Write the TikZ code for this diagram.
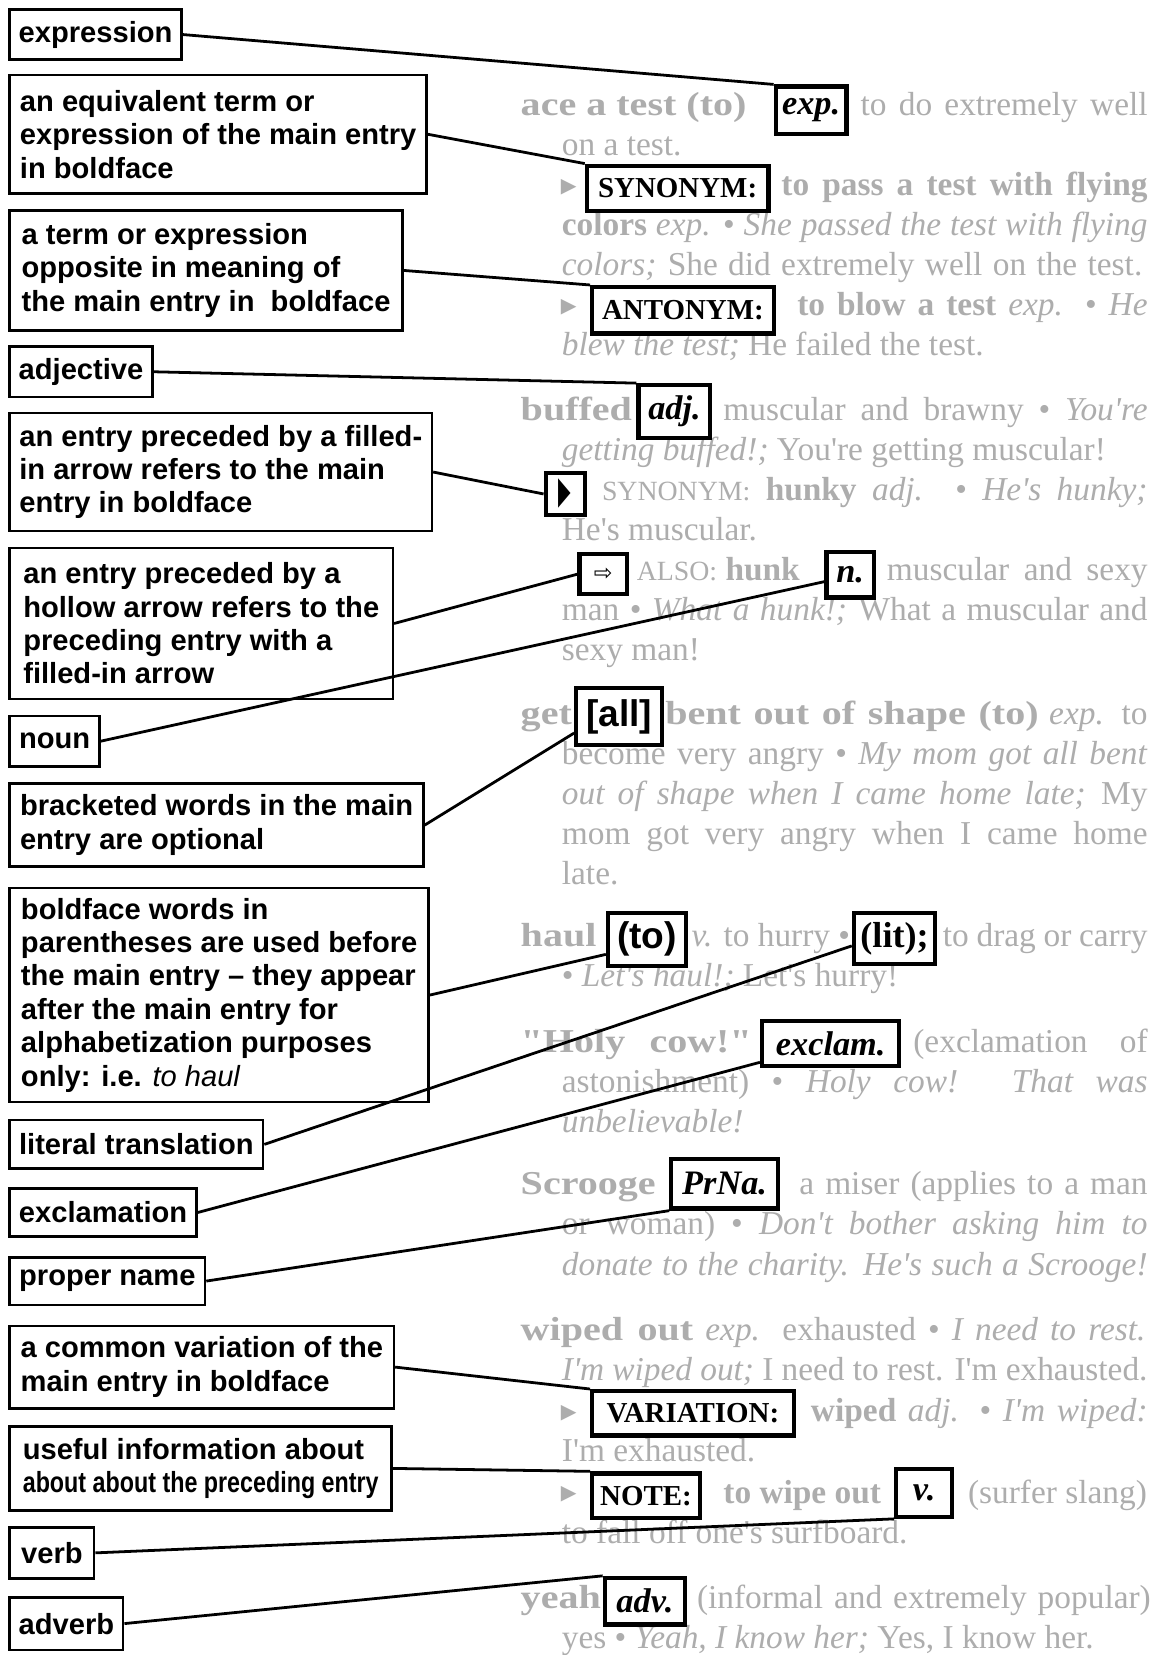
\documentclass[tikz,border=0pt]{standalone}
\usepackage{fontspec}
\usepackage{graphicx}
\newfontfamily\labelfont{Liberation Sans}
\newfontfamily\dictfont{Liberation Serif}
\newfontfamily\headfont{Liberation Serif}[FakeStretch=1.2]
\newfontfamily\symfont{DejaVu Sans}

\tikzset{
  notebox/.style={draw, line width=1.4pt, fill=white, anchor=north west,
    inner xsep=0.17cm, inner ysep=0pt, align=left,
    font={\labelfont\bfseries\fontsize{15.7}{18}\selectfont}},
  abbrbox/.style={draw, line width=2.3pt, fill=white, inner sep=0pt},
  abbrit/.style={abbrbox, font={\dictfont\bfseries\itshape\fontsize{18.5}{20}\selectfont}},
  abbrcap/.style={abbrbox, font={\dictfont\bfseries\fontsize{15.6}{18}\selectfont}},
  abbrsans/.style={abbrbox, font={\labelfont\bfseries\fontsize{20}{22}\selectfont}},
  greytext/.style={inner sep=0pt, anchor=base west, text=black!32,
    font={\dictfont\fontsize{18}{21}\selectfont}},
  greyhead/.style={greytext, font={\headfont\bfseries\fontsize{18}{21}\selectfont}},
  greybullet/.style={greytext, font={\symfont\fontsize{11}{11}\selectfont}},
  linkline/.style={line width=1.5pt},
}

\begin{document}
\begin{tikzpicture}[x=0.02cm, y=-0.02cm]
  \path[use as bounding box, fill=white] (0,0) rectangle (1098,1568);

  % dictionary page, faded
  \node[greyhead] (h1) at (493,109) {ace a test (to)};
  \node[greytext] (t1) at (815,109) {\makebox[5.44cm][s]{to do extremely well}};
  \node[greytext] (t2) at (532,147) {on a test.};
  \node[greybullet] (b1) at (531,182) {▶};
  \node[greytext] (t3) at (740,185) {\makebox[6.94cm][s]{\bfseries to pass a test with flying}};
  \node[greytext] (t4) at (532,223) {\makebox[11.1cm][s]{\textbf{colors} \textit{exp.} • \textit{She passed the test with flying}}};
  \node[greytext] (t5) at (532,261) {\makebox[11cm][s]{\textit{colors;} She did extremely well on the test.}};
  \node[greybullet] (b2) at (531,296) {▶};
  \node[greytext] (t6) at (755,299) {\makebox[6.64cm][s]{\textbf{to blow a test} \textit{exp.} • \textit{He}}};
  \node[greytext] (t7) at (532,337) {\textit{blew the test;} He failed the test.};

  \node[greyhead] (h2) at (493,398) {buffed};
  \node[greytext] (t8) at (685,398) {\makebox[8.04cm][s]{muscular and brawny • \textit{You're}}};
  \node[greytext] (t9) at (532,436) {\textit{getting buffed!;} You're getting muscular!};
  \node[greytext] (t10) at (570,474) {\makebox[10.34cm][s]{{\fontsize{15}{18}\selectfont SYNONYM:} \textbf{hunky} \textit{adj.} • \textit{He's hunky;}}};
  \node[greytext] (t11) at (532,512) {He's muscular.};
  \node[greytext] (t12) at (603,550) {{\fontsize{15}{18}\selectfont ALSO:} \textbf{hunk}};
  \node[greytext] (t13) at (840,550) {\makebox[4.94cm][s]{muscular and sexy}};
  \node[greytext] (t14) at (532,588) {\makebox[11.1cm][s]{man • \textit{What a hunk!;} What a muscular and}};
  \node[greytext] (t15) at (532,626) {sexy man!};

  \node[greyhead] (h3) at (493,686) {get};
  \node[greytext] (t16) at (630,686) {\makebox[9.14cm][s]{{\headfont\bfseries bent out of shape (to)} \textit{exp.} to}};
  \node[greytext] (t17) at (532,724) {\makebox[11.1cm][s]{become very angry • \textit{My mom got all bent}}};
  \node[greytext] (t18) at (532,762) {\makebox[11.1cm][s]{\textit{out of shape when I came home late;} My}};
  \node[greytext] (t19) at (532,800) {\makebox[11.1cm][s]{mom got very angry when I came home}};
  \node[greytext] (t20) at (532,838) {late.};

  \node[greyhead] (h4) at (493,897) {haul};
  \node[greytext] (t21) at (655,897) {\textit{v.} to hurry •};
  \node[greytext] (t22) at (893,897) {\makebox[3.88cm][s]{to drag or carry}};
  \node[greytext] (t23) at (532,935) {• \textit{Let's haul!;} Let's hurry!};

  \node[greytext] (h5) at (493,997) {\makebox[4.38cm][s]{{\headfont\bfseries "Holy} {\headfont\bfseries cow!"}}};
  \node[greytext] (t24) at (865,997) {\makebox[4.44cm][s]{(exclamation of}};
  \node[greytext] (t25) at (532,1035) {\makebox[11.1cm][s]{astonishment) • \textit{Holy cow! That was}}};
  \node[greytext] (t26) at (532,1073) {\textit{unbelievable!}};

  \node[greyhead] (h6) at (493,1132) {Scrooge};
  \node[greytext] (t27) at (757,1132) {\makebox[6.6cm][s]{a miser (applies to a man}};
  \node[greytext] (t28) at (532,1170) {\makebox[11.1cm][s]{or woman) • \textit{Don't bother asking him to}}};
  \node[greytext] (t29) at (532,1208) {\makebox[11.1cm][s]{\textit{donate to the charity. He's such a Scrooge!}}};

  \node[greytext] (h7) at (493,1270) {\makebox[11.84cm][s]{{\headfont\bfseries wiped out} \textit{exp.} exhausted • \textit{I need to rest.}}};
  \node[greytext] (t30) at (532,1308) {\makebox[11.1cm][s]{\textit{I'm wiped out;} I need to rest. I'm exhausted.}};
  \node[greybullet] (b3) at (531,1344) {▶};
  \node[greytext] (t31) at (768,1347) {\makebox[6.38cm][s]{\textbf{wiped} \textit{adj.} • \textit{I'm wiped:}}};
  \node[greytext] (t32) at (532,1385) {I'm exhausted.};
  \node[greybullet] (b4) at (531,1421) {▶};
  \node[greytext] (t33) at (685,1424) {\textbf{to wipe out}};
  \node[greytext, anchor=base east] (t34) at (1087,1424) {(surfer slang)};
  \node[greytext] (t35) at (532,1462) {to fall off one's surfboard.};

  \node[greyhead] (h8) at (493,1524) {yeah};
  \node[greytext] (t36) at (660,1524) {\makebox[8.6cm][s]{(informal and extremely popular)}};
  \node[greytext] (t37) at (532,1562) {yes • \textit{Yeah, I know her;} Yes, I know her.};

  % boxed abbreviations
  \node[abbrit, minimum width=1.34cm, minimum height=0.9cm] (exp) at (768.5,104.5) {exp.};
  \node[abbrcap, minimum width=3.44cm, minimum height=0.86cm] (syn) at (642,178.5) {SYNONYM:};
  \node[abbrcap, minimum width=3.44cm, minimum height=0.88cm] (ant) at (647,294) {ANTONYM:};
  \node[abbrit, minimum width=1.36cm, minimum height=1.0cm] (adj) at (639,390) {adj.};
  \node[abbrbox, minimum width=0.74cm, minimum height=0.8cm,
    font={\symfont\fontsize{16}{16}\selectfont}] (farrow) at (535.5,468) {\scalebox{0.55}[1.3]{▶}};
  \node[abbrbox, minimum width=0.9cm, minimum height=0.76cm,
    font={\symfont\fontsize{12}{12}\selectfont}] (harrow) at (571.5,544) {⇨};
  \node[abbrit, minimum width=0.9cm, minimum height=0.86cm] (nn) at (805.5,544.5) {n.};
  \node[abbrsans, minimum width=1.62cm, minimum height=1.08cm] (all) at (586.5,679) {[all]};
  \node[abbrsans, minimum width=1.48cm, minimum height=1.0cm] (tobox) at (613,890) {(to)};
  \node[abbrbox, minimum width=1.54cm, minimum height=0.96cm,
    font={\dictfont\bfseries\fontsize{19.5}{21}\selectfont}] (lit) at (847.5,889) {(lit);};
  \node[abbrit, minimum width=2.6cm, minimum height=0.86cm] (excl) at (787,988.5) {exclam.};
  \node[abbrit, minimum width=2.02cm, minimum height=0.94cm] (prna) at (686.5,1121.5) {PrNa.};
  \node[abbrcap, minimum width=3.82cm, minimum height=0.84cm] (var) at (656.5,1339) {VARIATION:};
  \node[abbrcap, minimum width=2.04cm, minimum height=0.84cm] (note) at (612,1417) {NOTE:};
  \node[abbrit, minimum width=1.06cm, minimum height=0.9cm] (vv) at (875.5,1414.5) {v.};
  \node[abbrit, minimum width=1.52cm, minimum height=0.88cm] (adv) at (611,1517) {adv.};

  % explanations on the left
  \node[notebox, minimum width=3.24cm, minimum height=0.94cm] (expr) at (8,8) {expression};
  \node[notebox, minimum width=7.9cm, minimum height=2.24cm] (equiv) at (8,70)
    {an equivalent term or\\ expression of the main entry\\ in boldface};
  \node[notebox, minimum width=7.44cm, minimum height=2.28cm] (oppo) at (8,198)
    {a term or expression\\ opposite in meaning of\\ the main entry in~ boldface};
  \node[notebox, minimum width=2.7cm, minimum height=0.96cm] (adjl) at (8,327) {adjective};
  \node[notebox, minimum width=8.0cm, minimum height=2.24cm] (filled) at (8,390)
    {an entry preceded by a filled-\\ in arrow refers to the main\\ entry in boldface};
  \node[notebox, minimum width=7.26cm, minimum height=2.86cm] (hollow) at (8,518)
    {an entry preceded by a\\ hollow arrow refers to the\\ preceding entry with a\\ filled-in arrow};
  \node[notebox, minimum width=1.7cm, minimum height=0.96cm] (noun) at (8,677) {noun};
  \node[notebox, minimum width=7.84cm, minimum height=1.58cm] (brack) at (8,741)
    {bracketed words in the main\\ entry are optional};
  \node[notebox, minimum width=7.94cm, minimum height=4.06cm] (paren) at (8,840)
    {boldface words in\\ parentheses are used before\\ the main entry – they appear\\ after the main entry for\\ alphabetization purposes\\ only: i.e. {\mdseries\itshape to haul}};
  \node[notebox, minimum width=4.8cm, minimum height=0.92cm] (literal) at (8,1060) {literal translation};
  \node[notebox, minimum width=3.54cm, minimum height=0.9cm] (exclam) at (8,1125) {exclamation};
  \node[notebox, minimum width=3.7cm, minimum height=0.9cm] (proper) at (8,1190) {proper name};
  \node[notebox, minimum width=7.28cm, minimum height=1.56cm] (variation) at (8,1255)
    {a common variation of the\\ main entry in boldface};
  \node[notebox, minimum width=7.24cm, minimum height=1.6cm] (useful) at (8,1350)
    {useful information about\\ \scalebox{0.8}[1]{about about the preceding entry}};
  \node[notebox, minimum width=1.6cm, minimum height=0.96cm] (verb) at (8,1446) {verb};
  \node[notebox, minimum width=2.14cm, minimum height=1.0cm] (adverb) at (8,1512) {adverb};

  % connectors
  \path (expr.east) edge[linkline] (exp.north west);
  \path (equiv.east) edge[linkline] (syn.north west);
  \path (oppo.east) edge[linkline] (ant.north west);
  \path (adjl.east) edge[linkline] (adj.north west);
  \path (filled.east) edge[linkline] (farrow.west);
  \path (hollow.east) edge[linkline] (harrow.west);
  \path (noun.east) edge[linkline] (nn.195);
  \path (brack.east) edge[linkline] (all.200);
  \path (paren.east) edge[linkline] (tobox.200);
  \path (literal.east) edge[linkline] (lit.190);
  \path (exclam.east) edge[linkline] (excl.195);
  \path (proper.east) edge[linkline] (prna.south west);
  \path (variation.east) edge[linkline] (var.north west);
  \path (useful.east) edge[linkline] (note.north west);
  \path (verb.east) edge[linkline] (vv.south west);
  \path (adverb.east) edge[linkline] (adv.north west);
\end{tikzpicture}
\end{document}
